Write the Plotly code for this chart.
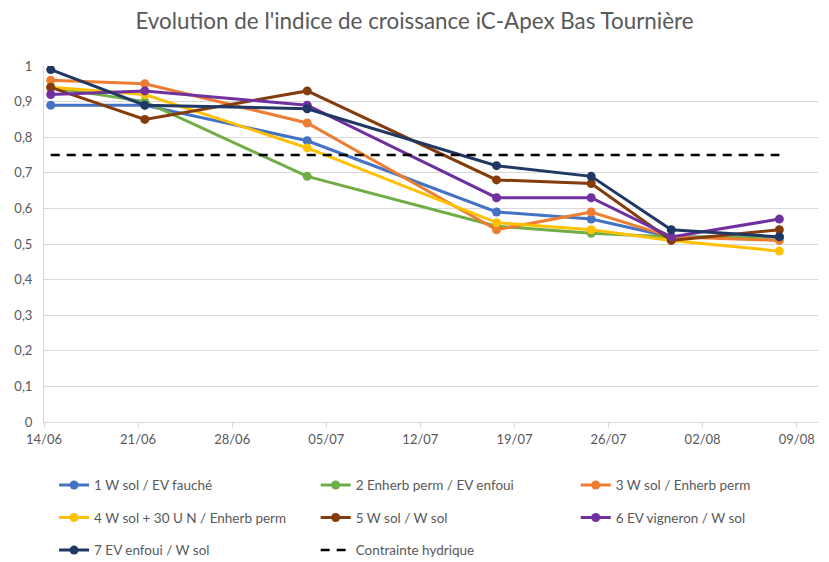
import plotly.graph_objects as go

dates = ["2021-06-14 12:00", "2021-06-21 12:00", "2021-07-03 14:00", "2021-07-17 16:00",
         "2021-07-24 17:00", "2021-07-30 16:00", "2021-08-07 17:00"]

names = ["1 W sol / EV fauché", "2 Enherb perm / EV enfoui", "3 W sol / Enherb perm",
         "4 W sol + 30 U N / Enherb perm", "5 W sol / W sol", "6 EV vigneron / W sol",
         "7 EV enfoui / W sol"]

s1 = [0.89, 0.89, 0.79, 0.59, 0.57, 0.52, 0.52]
s2 = [0.94, 0.90, 0.69, 0.55, 0.53, 0.52, 0.52]
s3 = [0.96, 0.95, 0.84, 0.54, 0.59, 0.52, 0.51]
s4 = [0.94, 0.92, 0.77, 0.56, 0.54, 0.51, 0.48]
s5 = [0.94, 0.85, 0.93, 0.68, 0.67, 0.51, 0.54]
s6 = [0.92, 0.93, 0.89, 0.63, 0.63, 0.52, 0.57]
s7 = [0.99, 0.89, 0.88, 0.72, 0.69, 0.54, 0.52]
contrainte = [0.75] * 7

series = [s1, s2, s3, s4, s5, s6, s7]
colors = ["#4472C4", "#70AD47", "#ED7D31", "#FFC000", "#843C0C", "#7030A0", "#203864"]
# legend columns (reference legend is a 3-column grid)
legend_of = ["legend", "legend2", "legend3", "legend", "legend2", "legend3", "legend"]

FONT = "Lato, 'Open Sans', sans-serif"
GREY = "#595959"

fig = go.Figure()
for i, (name, ys, c, lg) in enumerate(zip(names, series, colors, legend_of)):
    fig.add_trace(go.Scatter(
        x=dates, y=ys, name=name, mode="lines+markers",
        line=dict(color=c, width=3), marker=dict(color=c, size=9),
        legend=lg, legendgroup="g%d" % i,
    ))
fig.add_trace(go.Scatter(
    x=dates, y=contrainte, name="Contrainte hydrique", mode="lines",
    line=dict(color="#000000", width=2.5, dash="9px,7px"),
    legend="legend2", legendgroup="g7",
))

leg_common = dict(orientation="v", xanchor="left", yanchor="top",
                  traceorder="grouped", tracegroupgap=12,
                  font=dict(family=FONT, size=13.5, color=GREY),
                  bgcolor="rgba(0,0,0,0)")

fig.update_layout(
    width=829, height=562,
    margin=dict(l=44, r=11, t=66, b=140, autoexpand=False),
    paper_bgcolor="white", plot_bgcolor="white",
    separators=", ",
    title=dict(text="Evolution de l'indice de croissance iC-Apex Bas Tournière",
               x=0.5, xanchor="center", y=0.963, yanchor="middle",
               font=dict(family=FONT, size=22.4, color=GREY)),
    font=dict(family=FONT, color=GREY, size=13),
    showlegend=True,
    legend=dict(x=0.013, y=-0.134, **leg_common),
    legend2=dict(x=0.351, y=-0.134, **leg_common),
    legend3=dict(x=0.687, y=-0.134, **leg_common),
    xaxis=dict(
        type="date",
        range=["2021-06-14", "2021-08-10 14:00"],
        tick0="2021-06-14", dtick=7 * 24 * 3600 * 1000,
        tickformat="%d/%m",
        showgrid=False, showline=True, linecolor="#D9D9D9", linewidth=1,
        ticks="outside", ticklen=5, tickcolor="#D9D9D9",
        tickfont=dict(family=FONT, size=13, color=GREY),
        zeroline=False, automargin=False, ticklabelstandoff=0,
    ),
    yaxis=dict(
        range=[0, 1.0], dtick=0.1, tickformat=".1~f",
        showgrid=True, gridcolor="#D9D9D9", gridwidth=1,
        showline=True, linecolor="#D9D9D9", linewidth=1,
        zeroline=False, ticks="", ticklabelstandoff=8, automargin=False,
        tickfont=dict(family=FONT, size=13, color=GREY),
    ),
)

fig.write_html("out.html",
               config={"displayModeBar": False},
               post_script="document.body.style.margin='0';document.body.style.overflow='hidden';")
